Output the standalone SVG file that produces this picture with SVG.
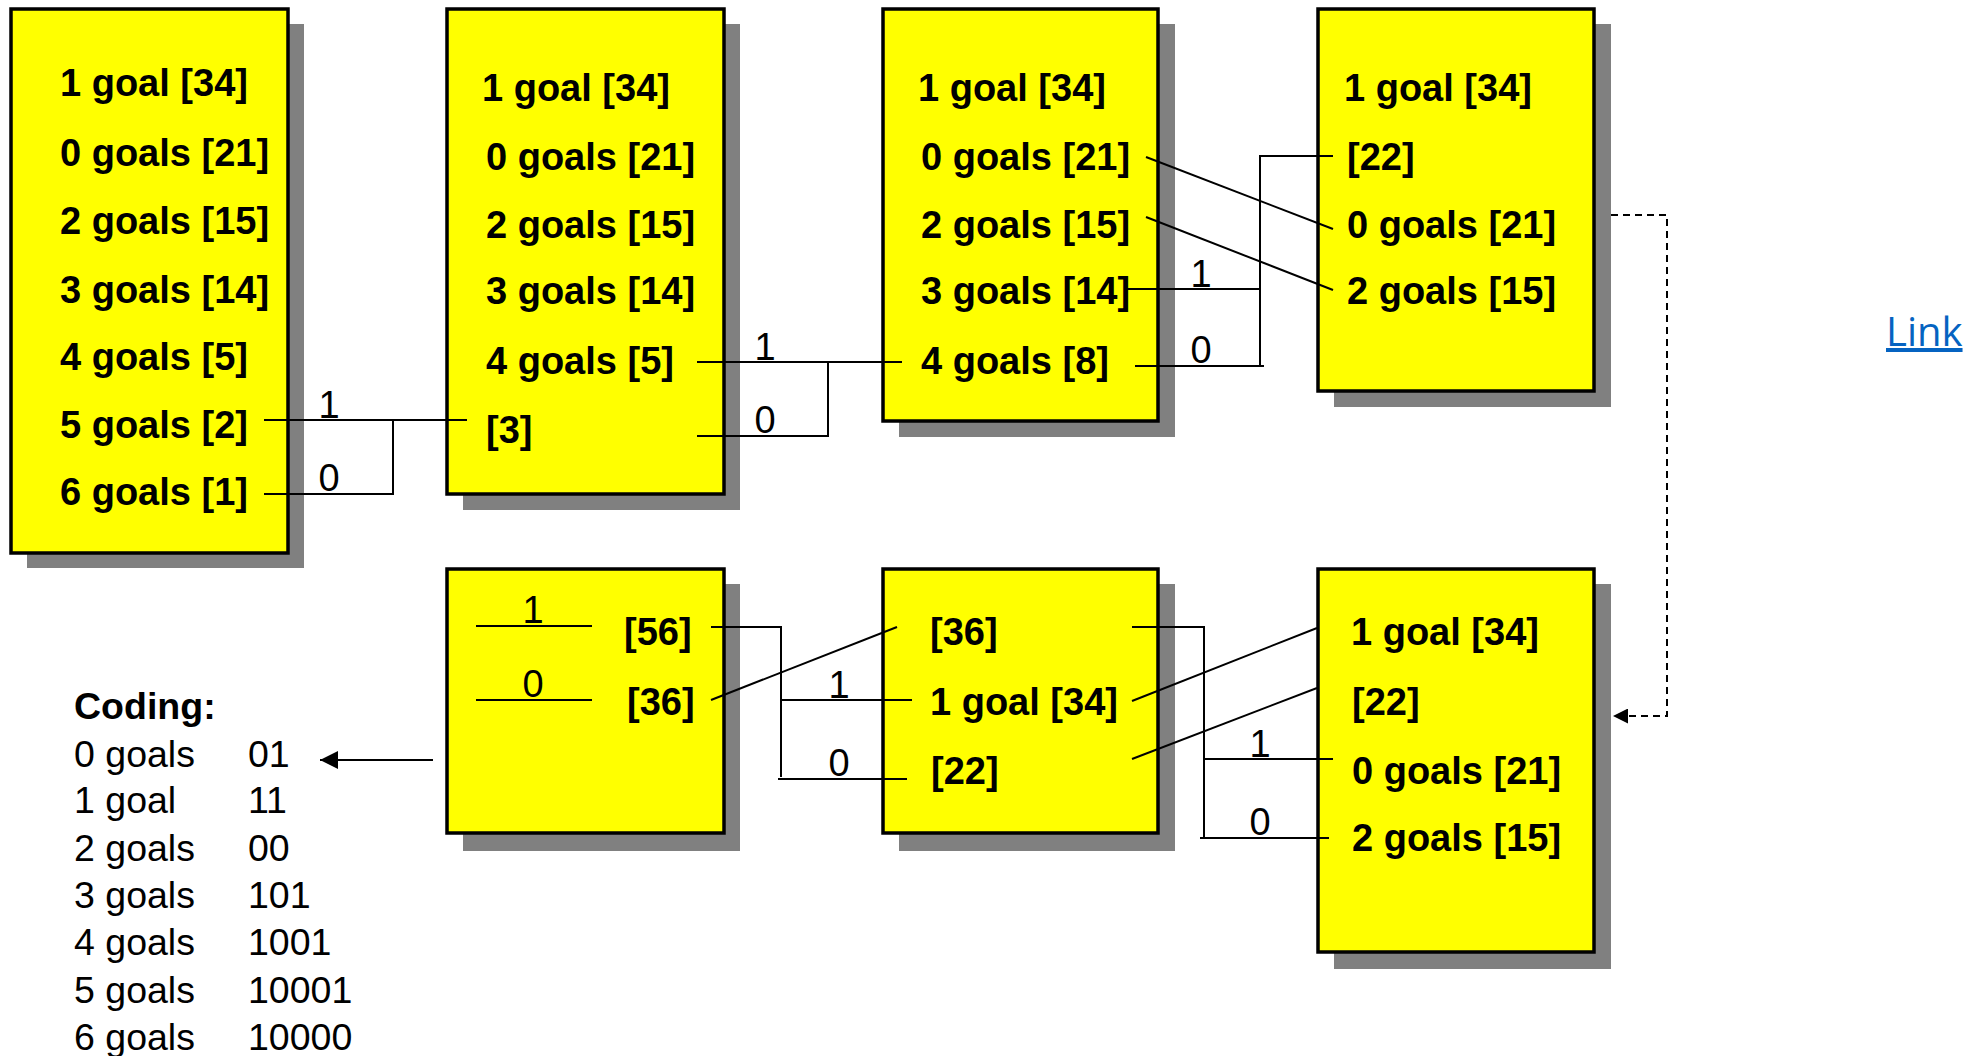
<svg xmlns="http://www.w3.org/2000/svg" width="1970" height="1056" viewBox="0 0 1970 1056">
<defs>
<style>
.box{fill:#FFFF00;stroke:#000;stroke-width:3.5}
.sh{fill:#808080}
.t{font-family:"Liberation Sans",Arial,sans-serif;font-weight:bold;font-size:38px;fill:#000}
.l{font-family:"Liberation Sans",Arial,sans-serif;font-size:38px;fill:#000;text-anchor:middle}
.c{font-family:"Liberation Sans",Arial,sans-serif;font-size:37.5px;fill:#000}
.w{stroke:#000;stroke-width:2;fill:none}
.d{stroke:#000;stroke-width:2;fill:none;stroke-dasharray:7,5}
</style>
<marker id="ah" viewBox="0 0 10 10" refX="10" refY="5" markerWidth="18" markerHeight="15" markerUnits="userSpaceOnUse" orient="auto"><path d="M0,0L10,5L0,10z" fill="#000"/></marker>
<marker id="ah2" viewBox="0 0 10 10" refX="10" refY="5" markerWidth="20" markerHeight="18" markerUnits="userSpaceOnUse" orient="auto"><path d="M0,0L10,5L0,10z" fill="#000"/></marker>
</defs>
<rect width="1970" height="1056" fill="#fff"/>

<g id="box1">
<rect class="sh" x="27" y="24" width="277" height="544"/>
<rect class="box" x="11" y="9" width="277" height="544"/>
<text class="t" x="60" y="96">1 goal [34]</text>
<text class="t" x="60" y="166">0 goals [21]</text>
<text class="t" x="60" y="234">2 goals [15]</text>
<text class="t" x="60" y="303">3 goals [14]</text>
<text class="t" x="60" y="370">4 goals [5]</text>
<text class="t" x="60" y="438">5 goals [2]</text>
<text class="t" x="60" y="505">6 goals [1]</text>
</g>

<g id="box2">
<rect class="sh" x="463" y="24" width="277" height="486"/>
<rect class="box" x="447" y="9" width="277" height="485"/>
<text class="t" x="482" y="101">1 goal [34]</text>
<text class="t" x="486" y="170">0 goals [21]</text>
<text class="t" x="486" y="238">2 goals [15]</text>
<text class="t" x="486" y="304">3 goals [14]</text>
<text class="t" x="486" y="374">4 goals [5]</text>
<text class="t" x="486" y="443">[3]</text>
</g>

<g id="box3">
<rect class="sh" x="899" y="24" width="276" height="413"/>
<rect class="box" x="883" y="9" width="275" height="412"/>
<text class="t" x="918" y="101">1 goal [34]</text>
<text class="t" x="921" y="170">0 goals [21]</text>
<text class="t" x="921" y="238">2 goals [15]</text>
<text class="t" x="921" y="304">3 goals [14]</text>
<text class="t" x="921" y="374">4 goals [8]</text>
</g>

<g id="box4">
<rect class="sh" x="1334" y="24" width="277" height="383"/>
<rect class="box" x="1318" y="9" width="276" height="382"/>
<text class="t" x="1344" y="101">1 goal [34]</text>
<text class="t" x="1347" y="170">[22]</text>
<text class="t" x="1347" y="238">0 goals [21]</text>
<text class="t" x="1347" y="304">2 goals [15]</text>
</g>

<g id="box5">
<rect class="sh" x="463" y="584" width="277" height="267"/>
<rect class="box" x="447" y="569" width="277" height="264"/>
<text class="t" x="624" y="645">[56]</text>
<text class="t" x="627" y="715">[36]</text>
<line class="w" x1="476" y1="626" x2="592" y2="626"/>
<line class="w" x1="476" y1="700" x2="592" y2="700"/>
<text class="l" x="533" y="623">1</text>
<text class="l" x="533" y="697">0</text>
</g>

<g id="box6">
<rect class="sh" x="899" y="584" width="276" height="267"/>
<rect class="box" x="883" y="569" width="275" height="264"/>
<text class="t" x="930" y="645">[36]</text>
<text class="t" x="930" y="715">1 goal [34]</text>
<text class="t" x="931" y="784">[22]</text>
</g>

<g id="box7">
<rect class="sh" x="1334" y="584" width="277" height="385"/>
<rect class="box" x="1318" y="569" width="276" height="383"/>
<text class="t" x="1351" y="645">1 goal [34]</text>
<text class="t" x="1352" y="715">[22]</text>
<text class="t" x="1352" y="784">0 goals [21]</text>
<text class="t" x="1352" y="851">2 goals [15]</text>
</g>

<g id="coding">
<text class="c" x="74" y="719" font-weight="bold">Coding:</text>
<text class="c" x="74" y="767">0 goals</text><text class="c" x="248" y="767">01</text>
<text class="c" x="74" y="813">1 goal</text><text class="c" x="248" y="813">11</text>
<text class="c" x="74" y="861">2 goals</text><text class="c" x="248" y="861">00</text>
<text class="c" x="74" y="908">3 goals</text><text class="c" x="248" y="908">101</text>
<text class="c" x="74" y="955">4 goals</text><text class="c" x="248" y="955">1001</text>
<text class="c" x="74" y="1003">5 goals</text><text class="c" x="248" y="1003">10001</text>
<text class="c" x="74" y="1050">6 goals</text><text class="c" x="248" y="1050">10000</text>
</g>

<g id="link">
<text x="1886" y="346" font-family="'Open Sans','Noto Sans',sans-serif" font-size="40" fill="#0563C1" text-decoration="underline">Link</text>
</g>

<g id="connectors">
<!-- box1 -> box2 -->
<polyline class="w" points="264,420 467,420"/>
<polyline class="w" points="264,494 393,494 393,420"/>
<text class="l" x="329" y="418">1</text>
<text class="l" x="329" y="491">0</text>
<!-- box2 -> box3 -->
<polyline class="w" points="697,362 902,362"/>
<polyline class="w" points="697,436 828,436 828,362"/>
<text class="l" x="765" y="360">1</text>
<text class="l" x="765" y="433">0</text>
<!-- box3 -> box4 -->
<polyline class="w" points="1127,289 1260,289"/>
<polyline class="w" points="1135,366 1264,366"/>
<polyline class="w" points="1260,366 1260,156 1333,156"/>
<text class="l" x="1201" y="287">1</text>
<text class="l" x="1201" y="363">0</text>
<line class="w" x1="1146" y1="157" x2="1333" y2="229"/>
<line class="w" x1="1146" y1="217" x2="1333" y2="290"/>
<!-- dashed box4 -> box7 -->
<polyline class="d" points="1611,215 1667,215 1667,716 1613,716" marker-end="url(#ah)"/>
<!-- box7 -> box6 -->
<line class="w" x1="1132" y1="701" x2="1317" y2="628"/>
<line class="w" x1="1132" y1="759" x2="1317" y2="688"/>
<polyline class="w" points="1132,627 1204,627 1204,838"/>
<polyline class="w" points="1204,759 1333,759"/>
<polyline class="w" points="1200,838 1329,838"/>
<text class="l" x="1260" y="757">1</text>
<text class="l" x="1260" y="835">0</text>
<!-- box6 -> box5 -->
<polyline class="w" points="711,627 781,627 781,777"/>
<polyline class="w" points="781,700 912,700"/>
<polyline class="w" points="778,779 907,779"/>
<text class="l" x="839" y="698">1</text>
<text class="l" x="839" y="776">0</text>
<line class="w" x1="711" y1="700" x2="897" y2="627"/>
<!-- box5 -> coding -->
<line class="w" x1="433" y1="760" x2="320" y2="760" marker-end="url(#ah2)"/>
</g>
</svg>
